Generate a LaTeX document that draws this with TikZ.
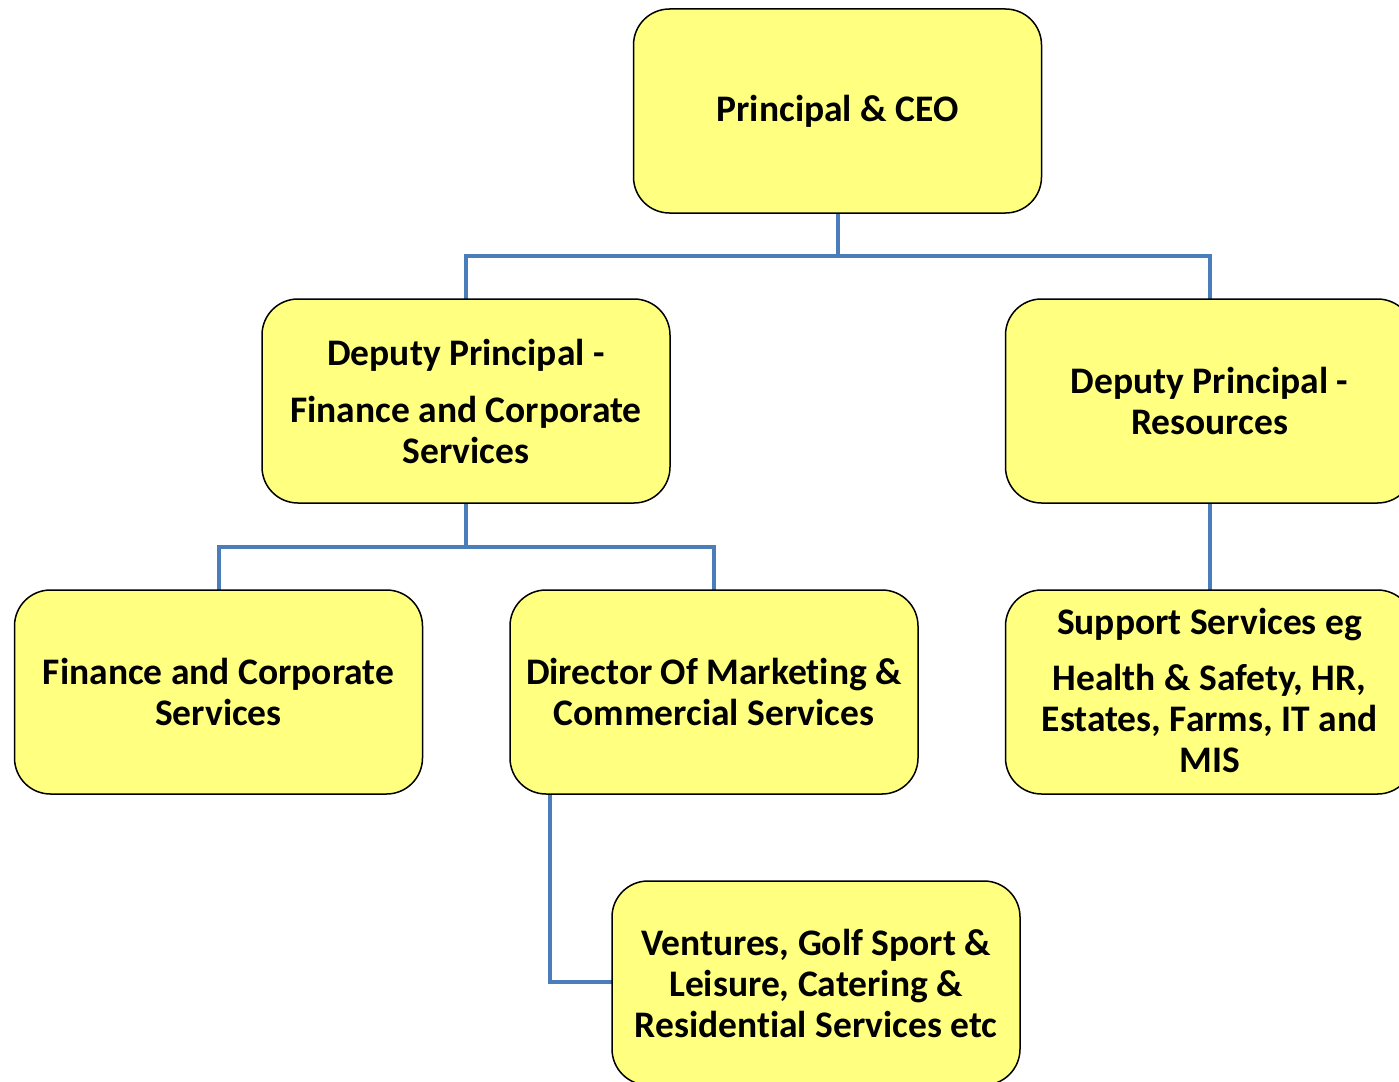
\documentclass[tikz,border=0pt]{standalone}
\usepackage{fontspec}
\setmainfont{Carlito}[RawFeature=-liga]
\usetikzlibrary{calc}
\definecolor{boxfill}{HTML}{FFFF80}
\definecolor{connblue}{HTML}{4A7EBB}
\tikzset{
  orgbox/.style={draw=black, line width=1.5pt, fill=boxfill, rounded corners=36pt,
    minimum width=408pt, minimum height=204pt, align=center, inner sep=0pt,
    font=\fontsize{37.5}{41}\selectfont\bfseries},
  conn/.style={draw=connblue, line width=4pt}
}
\begin{document}
\begin{tikzpicture}[x=1pt,y=-1pt]
\useasboundingbox (0,0) rectangle (1399,1081);
\clip (0,0) rectangle (1399,1081);
\fill[white] (0,0) rectangle (1399,1081);
% connectors first
\draw[conn] (837.5,213) -- (837.5,256) -| (466,299);
\draw[conn] (837.5,256) -| (1209.5,299);
\draw[conn] (466,503) -- (466,547) -| (218.5,590);
\draw[conn] (466,547) -| (714,590);
\draw[conn] (1209.5,503) -- (1209.5,590);
\draw[conn] (550,794) |- (612,982);
% boxes
\node[orgbox] (ceo) at (837.5,111) {Principal \& CEO};
\node[orgbox] (dpf) at (466,401) {Deputy Principal -\\[16pt]Finance and Corporate\\Services};
\node[orgbox] (dpr) at (1209.5,401) {Deputy Principal -\\Resources};
\node[orgbox] (fcs) at (218.5,692) {Finance and Corporate\\Services};
\node[orgbox] (dir) at (714,692) {Director Of Marketing \&\\Commercial Services};
\node[orgbox] (sup) at (1209.5,692) {};
\node[font=\fontsize{37.5}{41}\selectfont\bfseries, align=center, anchor=base, inner sep=0pt] (suptxt) at (1209.5,772) {Support Services eg\\[15pt]Health \& Safety, HR,\\Estates, Farms, IT and\\MIS};
\node[orgbox] (ven) at (816,983) {Ventures, Golf Sport \&\\Leisure, Catering \&\\Residential Services etc};
\end{tikzpicture}
\end{document}
